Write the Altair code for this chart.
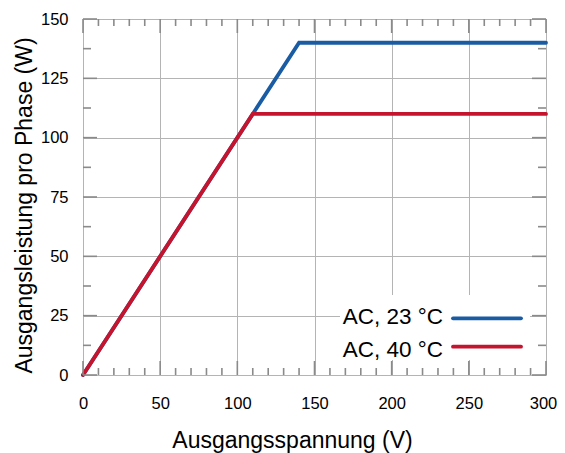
import altair as alt
import pandas as pd

# ---- data ----
volt_23 = [0, 140, 300]
power_23 = [0, 140, 140]
volt_40 = [0, 110, 300]
power_40 = [0, 110, 110]
series_labels = ["AC, 23 °C", "AC, 40 °C"]
series_colors = ["#1a5ca3", "#c4142e"]

x_major = [0, 50, 100, 150, 200, 250, 300]
x_minor = [v for v in range(0, 301, 10) if v % 50 != 0]
y_major = [0, 25, 50, 75, 100, 125, 150]
y_minor = [12.5, 37.5, 62.5, 87.5, 112.5, 137.5]

W, H = 463, 356
FONT = "Liberation Sans"
TICK = "#8a8a8a"

df = pd.concat([
    pd.DataFrame({"v": volt_23, "p": power_23, "s": series_labels[0]}),
    pd.DataFrame({"v": volt_40, "p": power_40, "s": series_labels[1]}),
])

xs = alt.Scale(domain=[0, 300], nice=False)
ys = alt.Scale(domain=[0, 150], nice=False)

xaxis = alt.Axis(values=x_major, ticks=False, domain=False, grid=True,
                 gridColor="#b4b4b4", gridWidth=1,
                 labelFont=FONT, labelFontSize=16.5, labelColor="#000",
                 labelPadding=20, labelFlush=False,
                 labelOffset=alt.ExprRef(expr="datum.value == 300 ? -3 : 0"),
                 title="Ausgangsspannung (V)", titleFont=FONT, titleFontSize=23,
                 titleFontWeight="normal", titleColor="#000",
                 titleX=209, titleY=72, titleBaseline="alphabetic", titleAlign="center")
yaxis = alt.Axis(values=y_major, ticks=False, domain=False, grid=True,
                 gridColor="#b4b4b4", gridWidth=1,
                 labelFont=FONT, labelFontSize=16.5, labelColor="#000",
                 labelPadding=15, labelFlush=False,
                 title="Ausgangsleistung pro Phase (W)", titleFont=FONT, titleFontSize=23,
                 titleFontWeight="normal", titleColor="#000", titleAngle=270,
                 titleX=-52, titleY=186, titleBaseline="alphabetic", titleAlign="center")

base = alt.Chart(df)

grid = base.mark_point(opacity=0).encode(
    x=alt.X("v:Q", scale=xs, axis=xaxis),
    y=alt.Y("p:Q", scale=ys, axis=yaxis),
)

line23 = base.transform_filter(alt.datum.s == series_labels[0]).mark_line(
    color=series_colors[0], strokeWidth=3.8, strokeCap="round"
).encode(x=alt.X("v:Q", scale=xs), y=alt.Y("p:Q", scale=ys))
line40 = base.transform_filter(alt.datum.s == series_labels[1]).mark_line(
    color=series_colors[1], strokeWidth=3.8, strokeCap="round"
).encode(x=alt.X("v:Q", scale=xs), y=alt.Y("p:Q", scale=ys))

# legend box
legend_bg = alt.Chart(pd.DataFrame({"a": [0]})).mark_rect(color="white").encode(
    x=alt.value(257), x2=alt.value(447), y=alt.value(276), y2=alt.value(341))

legend_layers = []
for i, (lab, col) in enumerate(zip(series_labels, series_colors)):
    ln_y = 299.3 + i * 28.4
    txt_y = 305.3 + i * 32.4
    d = pd.DataFrame({"label": [lab]})
    legend_layers.append(alt.Chart(d).mark_text(
        font=FONT, fontSize=22.5, align="right", baseline="alphabetic", color="#000"
    ).encode(text="label:N", x=alt.value(360), y=alt.value(txt_y)))
    legend_layers.append(alt.Chart(d).mark_rule(
        color=col, strokeWidth=3.8, strokeCap="round"
    ).encode(x=alt.value(370), x2=alt.value(438), y=alt.value(ln_y)))

# inside ticks
def xticks(vals, ln):
    d = pd.DataFrame({"t": vals})
    bot = alt.Chart(d).mark_rule(color=TICK, strokeWidth=1.6).encode(
        x=alt.X("t:Q", scale=xs), y=alt.value(H), y2=alt.value(H - ln))
    top = alt.Chart(d).mark_rule(color=TICK, strokeWidth=1.6).encode(
        x=alt.X("t:Q", scale=xs), y=alt.value(0), y2=alt.value(ln))
    return [bot, top]

def yticks(vals, ln):
    d = pd.DataFrame({"t": vals})
    lef = alt.Chart(d).mark_rule(color=TICK, strokeWidth=1.6).encode(
        y=alt.Y("t:Q", scale=ys), x=alt.value(0), x2=alt.value(ln))
    rig = alt.Chart(d).mark_rule(color=TICK, strokeWidth=1.6).encode(
        y=alt.Y("t:Q", scale=ys), x=alt.value(W), x2=alt.value(W - ln))
    return [lef, rig]

ticks = xticks(x_major, 14) + xticks(x_minor, 7) + yticks(y_major, 14) + yticks(y_minor, 8)

chart = alt.layer(grid, line23, line40, legend_bg, *legend_layers, *ticks).properties(
    width=W, height=H,
    autosize=alt.AutoSizeParams(type="none"),
    padding={"left": 75, "top": 11, "right": 11, "bottom": 78},
).configure_view(stroke="#8a8a8a", strokeWidth=2).configure(background="white")

chart.save("out.html", embed_options={"renderer": "svg", "actions": False})
